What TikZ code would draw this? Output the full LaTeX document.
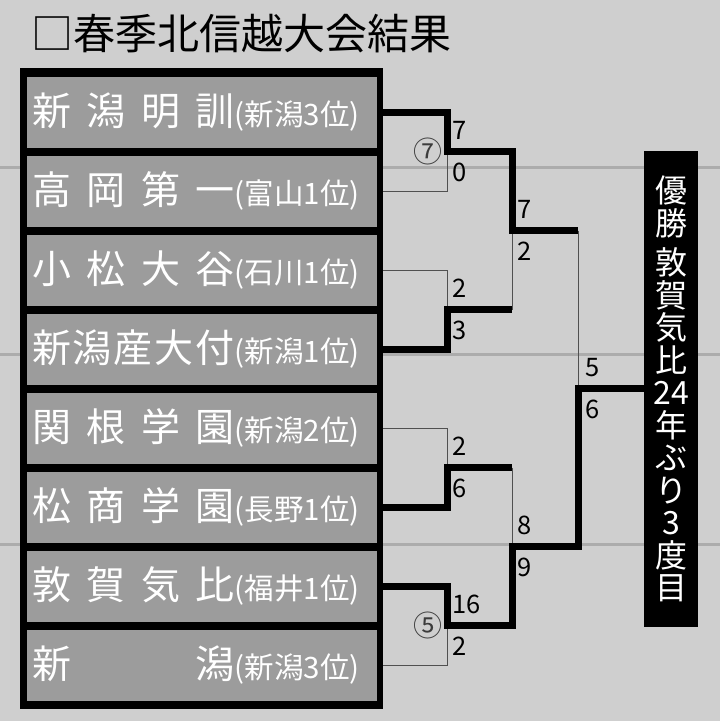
\documentclass[tikz,border=0pt]{standalone}
\usepackage{fontspec}
\setmainfont{Noto Sans CJK JP}
\usetikzlibrary{positioning}
\definecolor{bg}{RGB}{207,207,207}
\definecolor{boxgray}{RGB}{156,156,156}
\definecolor{ruleline}{RGB}{172,172,172}
\definecolor{thinline}{RGB}{80,80,80}
\definecolor{seedgray}{RGB}{60,60,60}

% team name spread over a fixed width, then the prefecture rank
\newcommand{\teamtext}[2]{\noindent\makebox[203pt][l]{\fontsize{39}{39}\selectfont #1}{\fontsize{29.5}{29.5}\selectfont #2}}

\begin{document}
\begin{tikzpicture}[
		x=1pt, y=-1pt,
		every node/.style={inner sep=0pt},
		team/.style={fill=boxgray, text=white, minimum height=71pt, text width=340pt, inner xsep=5pt, align=left},
		win/.style={line width=7pt, line join=miter},
		lose/.style={line width=1pt, draw=thinline},
		score/.style={anchor=west, font=\fontsize{25.5}{25.5}\selectfont},
		seed/.style={text=seedgray, font=\fontsize{29}{29}\selectfont}
		]
		
		% Background
		\fill[bg] (0,0) rectangle (720,721);
		\useasboundingbox (0,0) rectangle (720,721);
		\draw[ruleline, line width=3pt] (0,167) -- (720,167);
		\draw[ruleline, line width=3pt] (0,354) -- (720,354);
		\draw[ruleline, line width=3pt] (0,544) -- (720,544);
		
		% Title
		\node[anchor=west, font=\fontsize{42}{42}\selectfont] (title) at (31,34) {□春季北信越大会結果};
		
		% Teams
		\node[fill=black, minimum width=363pt, minimum height=641pt] (frame) at (201.5,388.5) {};
		\node[team] (t1) at (202,112) {\teamtext{新\hfill 潟\hfill 明\hfill 訓}{(新潟3位)}};
		\node[team] (t2) at (202,191) {\teamtext{高\hfill 岡\hfill 第\hfill 一}{(富山1位)}};
		\node[team] (t3) at (202,270) {\teamtext{小\hfill 松\hfill 大\hfill 谷}{(石川1位)}};
		\node[team] (t4) at (202,349) {\teamtext{新\hfill 潟\hfill 産\hfill 大\hfill 付}{(新潟1位)}};
		\node[team] (t5) at (202,428) {\teamtext{関\hfill 根\hfill 学\hfill 園}{(新潟2位)}};
		\node[team] (t6) at (202,507) {\teamtext{松\hfill 商\hfill 学\hfill 園}{(長野1位)}};
		\node[team] (t7) at (202,586) {\teamtext{敦\hfill 賀\hfill 気\hfill 比}{(福井1位)}};
		\node[team] (t8) at (202,665) {\teamtext{新\hfill 潟}{(新潟3位)}};
		
		% Champion
		\node[
		fill=black,
		text=white,
		minimum width=54pt,
		minimum height=476pt,
		align=center,
		font=\fontsize{32}{32.5}\selectfont
		] (champ) at (671,389) {優\\勝\\[7pt]敦\\賀\\気\\比\\24\\年\\ぶ\\り\\3\\度\\目};
		
		% Match points
		\coordinate (q1) at (447,151.5);
		\coordinate (q2) at (447,309.5);
		\coordinate (q3) at (447,467.5);
		\coordinate (q4) at (447,625.5);
		\coordinate (s1) at (512,230.5);
		\coordinate (s2) at (512,546.5);
		\coordinate (f) at (578,388.5);
		
		% Losing sides
		\draw[lose] (frame.east |- t2) -| (q1);
		\draw[lose] (frame.east |- t3) -| (q2);
		\draw[lose] (frame.east |- t5) -| (q3);
		\draw[lose] (frame.east |- t8) -| (q4);
		\draw[lose] (q2 -| s1) -- (s1);
		\draw[lose] (q3 -| s2) -- (s2);
		\draw[lose] (s1 -| f) -- (f);
		
		% Winning sides
		\draw[win] (frame.east |- t1) -| (q1) -- (q1 -| s1) -- (s1) -- (s1 -| f);
		\draw[win] (frame.east |- t4) -| (q2) -- (q2 -| s1);
		\draw[win] (frame.east |- t6) -| (q3) -- (q3 -| s2);
		\draw[win] (frame.east |- t7) -| (q4) -- (q4 -| s2) -- (s2) -- (s2 -| f) -- (f) -- (champ.west |- f);
		
		% Scores
		\node[score] (a1) at ([xshift=5pt, yshift=21pt]q1) {7};
		\node[score] (a2) at ([xshift=5pt, yshift=-21pt]q1) {0};
		\node[score] (b1) at ([xshift=5pt, yshift=21pt]q2) {2};
		\node[score] (b2) at ([xshift=5pt, yshift=-21pt]q2) {3};
		\node[score] (c1) at ([xshift=5pt, yshift=21pt]q3) {2};
		\node[score] (c2) at ([xshift=5pt, yshift=-21pt]q3) {6};
		\node[score] (d1) at ([xshift=5pt, yshift=21pt]q4) {16};
		\node[score] (d2) at ([xshift=5pt, yshift=-21pt]q4) {2};
		\node[score] (e1) at ([xshift=5pt, yshift=21pt]s1) {7};
		\node[score] (e2) at ([xshift=5pt, yshift=-21pt]s1) {2};
		\node[score] (g1) at ([xshift=5pt, yshift=21pt]s2) {8};
		\node[score] (g2) at ([xshift=5pt, yshift=-21pt]s2) {9};
		\node[score] (h1) at ([xshift=7pt, yshift=21pt]f) {5};
		\node[score] (h2) at ([xshift=7pt, yshift=-21pt]f) {6};
		
		% Innings
		\node[seed, left=4pt of q1] (inn1) {⑦};
		\node[seed, left=4pt of q4] (inn2) {⑤};
		
	\end{tikzpicture}
\end{document}
